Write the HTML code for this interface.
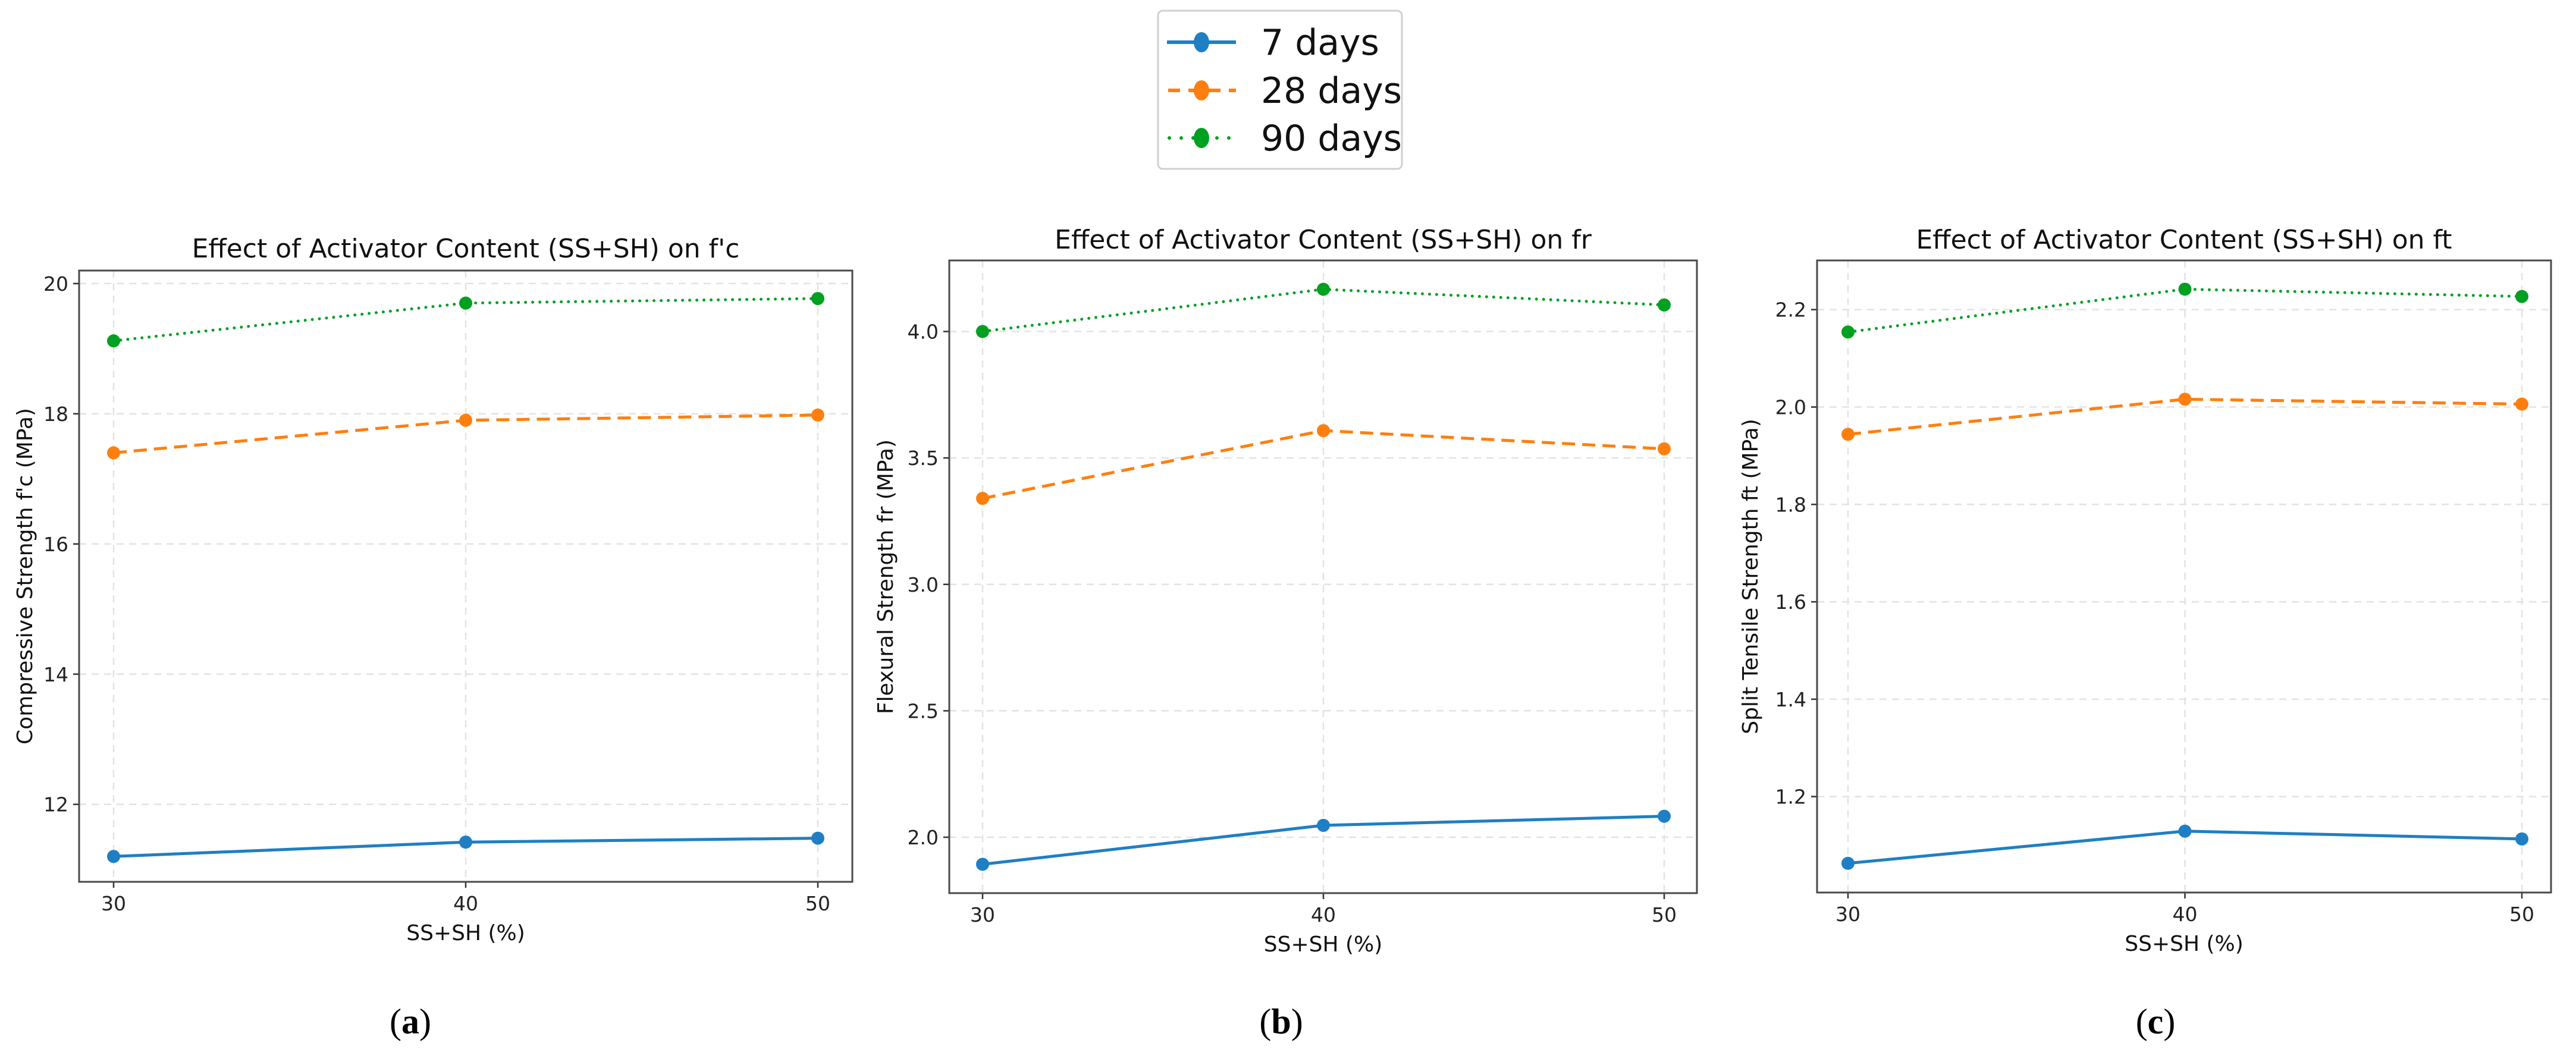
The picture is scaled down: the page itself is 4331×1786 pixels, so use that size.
<!DOCTYPE html>
<html><head><meta charset="utf-8">
<style>
html,body{margin:0;padding:0;background:#fff;}
svg{display:block;font-family:"DejaVu Sans","Liberation Sans",sans-serif;}
</style></head>
<body>
<svg id="fig" width="4331" height="1786" viewBox="0 0 4331 1786" xmlns="http://www.w3.org/2000/svg">
  <rect width="4331" height="1786" fill="#fff"/>
  <g>
    <rect x="1947" y="18" width="410" height="266" rx="8" fill="#fff" stroke="#d0d0d0" stroke-width="3"/>
    <g>
      <line x1="1962" y1="71" x2="2078" y2="71" stroke="#1f7fc4" stroke-width="6"/>
      <ellipse cx="2020" cy="71" rx="13" ry="17" fill="#1f7fc4"/>
      <text x="2120" y="92" font-size="60" fill="#111">7 days</text>
    </g>
    <g>
      <line x1="1964" y1="152" x2="2078" y2="152" stroke="#ff7f0e" stroke-width="6" stroke-dasharray="20,14"/>
      <ellipse cx="2020" cy="152" rx="13" ry="17" fill="#ff7f0e"/>
      <text x="2120" y="173" font-size="60" fill="#111">28 days</text>
    </g>
    <g>
      <line x1="1966" y1="232" x2="2078" y2="232" stroke="#00a020" stroke-width="6" stroke-dasharray="0,20" stroke-linecap="round"/>
      <ellipse cx="2020" cy="232" rx="13" ry="17" fill="#00a020"/>
      <text x="2120" y="253" font-size="60" fill="#111">90 days</text>
    </g>
  </g>
  <g id="charts"></g>
</svg>
<script>
// ---- data ----
const categories = [30, 40, 50];
const seriesNames = ["7 days", "28 days", "90 days"];
// Panel (a) compressive strength f'c
const fc7 = [11.2, 11.42, 11.48];
const fc28 = [17.4, 17.9, 17.98];
const fc90 = [19.12, 19.7, 19.77];
const fcTicks = [12, 14, 16, 18, 20];
const fcTickLabels = ["12", "14", "16", "18", "20"];
// Panel (b) flexural strength fr
const fr7 = [1.893, 2.047, 2.083];
const fr28 = [3.34, 3.608, 3.536];
const fr90 = [4.0, 4.167, 4.105];
const frTicks = [2.0, 2.5, 3.0, 3.5, 4.0];
const frTickLabels = ["2.0", "2.5", "3.0", "3.5", "4.0"];
// Panel (c) split tensile strength ft
const ft7 = [1.063, 1.129, 1.113];
const ft28 = [1.944, 2.016, 2.006];
const ft90 = [2.154, 2.242, 2.227];
const ftTicks = [1.2, 1.4, 1.6, 1.8, 2.0, 2.2];
const ftTickLabels = ["1.2", "1.4", "1.6", "1.8", "2.0", "2.2"];
const xTickLabels = ["30", "40", "50"];

const NS = "http://www.w3.org/2000/svg";
const root = document.getElementById("charts");
function mk(tag, attrs, parent) {
  const e = document.createElementNS(NS, tag);
  for (const k in attrs) e.setAttribute(k, attrs[k]);
  parent.appendChild(e);
  return e;
}
const styles = [
  {color: "#1f7fc4", dash: null, cap: "butt"},
  {color: "#ff7f0e", dash: "22,12", cap: "butt"},
  {color: "#00a020", dash: "0,12", cap: "round"}
];

const panels = [
  {key:"a", L:133, R:1433, T:455, B:1483, x30:191, x50:1375, ymin:10.81, ymax:20.2,
   series:[fc7, fc28, fc90], ticks:fcTicks, labels:fcTickLabels,
   title:"Effect of Activator Content (SS+SH) on f'c", ylabel:"Compressive Strength f'c (MPa)", ylx:42, titleY:433, tl:"(a)", tlx:690},
  {key:"b", L:1596, R:2853, T:438, B:1502, x30:1652, x50:2798, ymin:1.779, ymax:4.281,
   series:[fr7, fr28, fr90], ticks:frTicks, labels:frTickLabels,
   title:"Effect of Activator Content (SS+SH) on fr", ylabel:"Flexural Strength fr (MPa)", ylx:1489, titleY:418, tl:"(b)", tlx:2154},
  {key:"c", L:3055, R:4289, T:438, B:1501, x30:3107, x50:4240, ymin:1.003, ymax:2.301,
   series:[ft7, ft28, ft90], ticks:ftTicks, labels:ftTickLabels,
   title:"Effect of Activator Content (SS+SH) on ft", ylabel:"Split Tensile Strength ft (MPa)", ylx:2943, titleY:418, tl:"(c)", tlx:3624}
];

panels.forEach(p => {
  const g = mk("g", {}, root);
  
  
  const xs = v => p.x30 + (v - categories[0]) / (categories[2] - categories[0]) * (p.x50 - p.x30);
  const ys = v => p.B - (v - p.ymin) / (p.ymax - p.ymin) * (p.B - p.T);

  p.ticks.forEach((t, i) => {
    const y = ys(t);
    const gl = mk("line", {x1:p.L, x2:p.R, y1:y, y2:y, stroke:"#e3e3e3", "stroke-width":2.5, "stroke-dasharray":"12,9"}, g);
    
    
    const tk = mk("line", {x1:p.L-10, x2:p.L, y1:y, y2:y, stroke:"#333", "stroke-width":2.5}, g);
    
    
    const tx = mk("text", {x:p.L-18, y:y+12, "font-size":33, "text-anchor":"end", fill:"#222"}, g);
    
    
    tx.textContent = p.labels[i];
  });
  categories.forEach((c, i) => {
    const x = xs(c);
    const gl = mk("line", {x1:x, x2:x, y1:p.T, y2:p.B, stroke:"#e3e3e3", "stroke-width":2.5, "stroke-dasharray":"12,9"}, g);
    
    
    const tk = mk("line", {x1:x, x2:x, y1:p.B, y2:p.B+10, stroke:"#333", "stroke-width":2.5}, g);
    
    
    const tx = mk("text", {x:x, y:p.B+48, "font-size":33, "text-anchor":"middle", fill:"#222"}, g);
    
    
    tx.textContent = xTickLabels[i];
  });
  const fr = mk("rect", {x:p.L, y:p.T, width:p.R-p.L, height:p.B-p.T, fill:"none", stroke:"#4a4a4a", "stroke-width":3}, g);
  
  

  p.series.forEach((vals, si) => {
    const st = styles[si];
    const pts = vals.map((v, i) => xs(categories[i]) + "," + ys(v)).join(" ");
    const attrs = {points:pts, fill:"none", stroke:st.color, "stroke-width":5, "stroke-linecap":st.cap};
    if (st.dash) attrs["stroke-dasharray"] = st.dash;
    const pl = mk("polyline", attrs, g);
    
    
    vals.forEach((v, i) => {
      const c = mk("circle", {cx:xs(categories[i]), cy:ys(v), r:11, fill:st.color}, g);
      
      
    });
  });

  const cx = (p.L + p.R) / 2;
  const t = mk("text", {x:cx, y:p.titleY, "font-size":44, "text-anchor":"middle", fill:"#111"}, g);
  
  
  t.textContent = p.title;
  const xl = mk("text", {x:cx, y:p.B+98, "font-size":36, "text-anchor":"middle", fill:"#111"}, g);
  
  
  xl.textContent = "SS+SH (%)";
  const ym = (p.T + p.B) / 2;
  const yl = mk("text", {x:p.ylx, y:ym, "font-size":36, "text-anchor":"middle", fill:"#111", transform:"rotate(-90 " + p.ylx + " " + ym + ")", dy:"12"}, g);
  
  
  yl.textContent = p.ylabel;
  const pl = mk("text", {x:p.tlx, y:1738, "font-size":60, "text-anchor":"middle", fill:"#000", "font-family":"Liberation Serif, serif"}, g);
  
  
  pl.innerHTML = '(<tspan font-weight="bold">' + p.tl.charAt(1) + '</tspan>)';
});
</script>
</body></html>
